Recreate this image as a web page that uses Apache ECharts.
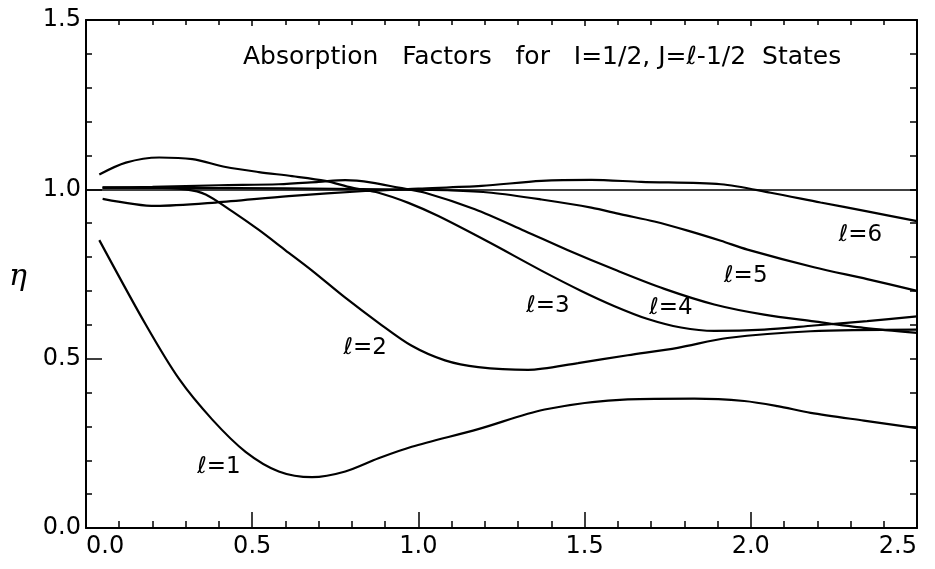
<!DOCTYPE html>
<html>
<head>
<meta charset="utf-8">
<script src="https://cdn.jsdelivr.net/npm/echarts@6/dist/echarts.min.js"></script>
<style>html,body{margin:0;padding:0;background:#fff;}#c{width:935px;height:569px;}</style>
</head>
<body>
<div id="c"></div>
<script>
// ---- data ----
const titleText = "Absorption   Factors   for   I=1/2, J=\u2113-1/2  States";
const yAxisName = "\u03b7";
const xTicks = [0.0, 0.5, 1.0, 1.5, 2.0, 2.5];
const yTicks = [0.0, 0.5, 1.0, 1.5];
const refEta = 1.0;

const l1X = [0.04, 0.18, 0.28, 0.38, 0.48, 0.58, 0.68, 0.78, 0.88, 0.98, 1.18, 1.38, 1.63, 1.83, 1.98, 2.08, 2.18, 2.34, 2.5];
const l1Y = [0.85, 0.60, 0.44, 0.32, 0.225, 0.167, 0.15, 0.167, 0.206, 0.24, 0.292, 0.35, 0.38, 0.382, 0.375, 0.36, 0.34, 0.317, 0.295];

const l2X = [0.05, 0.2, 0.3, 0.36, 0.44, 0.52, 0.60, 0.68, 0.78, 0.88, 0.98, 1.08, 1.18, 1.33, 1.48, 1.63, 1.78, 1.93, 2.18, 2.5];
const l2Y = [1.005, 1.005, 1.0, 0.985, 0.935, 0.88, 0.82, 0.76, 0.68, 0.606, 0.538, 0.495, 0.475, 0.467, 0.487, 0.51, 0.532, 0.561, 0.581, 0.586];

const l3X = [0.04, 0.12, 0.22, 0.32, 0.42, 0.52, 0.62, 0.72, 0.80, 0.88, 0.97, 1.06, 1.21, 1.37, 1.49, 1.59, 1.69, 1.79, 1.89, 2.04, 2.19, 2.35, 2.5];
const l3Y = [1.044, 1.079, 1.094, 1.089, 1.066, 1.051, 1.039, 1.025, 1.005, 0.99, 0.96, 0.921, 0.845, 0.76, 0.70, 0.655, 0.617, 0.592, 0.582, 0.586, 0.598, 0.611, 0.625];

const l4X = [0.05, 0.2, 0.4, 0.58, 0.7, 0.78, 0.86, 0.94, 1.02, 1.17, 1.32, 1.45, 1.59, 1.74, 1.89, 2.04, 2.19, 2.34, 2.5];
const l4Y = [1.005, 1.007, 1.012, 1.015, 1.022, 1.027, 1.02, 1.005, 0.99, 0.941, 0.877, 0.82, 0.763, 0.706, 0.660, 0.630, 0.610, 0.591, 0.576];

const l5X = [0.05, 0.3, 0.6, 0.9, 1.1, 1.22, 1.37, 1.52, 1.61, 1.71, 1.81, 1.91, 1.99, 2.19, 2.35, 2.5];
const l5Y = [1.005, 1.004, 1.003, 1.0, 0.997, 0.99, 0.97, 0.946, 0.926, 0.905, 0.878, 0.848, 0.822, 0.77, 0.735, 0.70];

const l6X = [0.05, 0.21, 0.39, 0.61, 0.84, 1.0, 1.19, 1.37, 1.52, 1.67, 1.91, 2.06, 2.21, 2.35, 2.5];
const l6Y = [0.972, 0.951, 0.961, 0.98, 0.995, 1.002, 1.01, 1.025, 1.028, 1.022, 1.015, 0.99, 0.961, 0.935, 0.906];

const curveNames = ["\u2113=1", "\u2113=2", "\u2113=3", "\u2113=4", "\u2113=5", "\u2113=6"];
const labelX = [0.40, 0.84, 1.39, 1.76, 1.985, 2.33];
const labelY = [0.18, 0.53, 0.655, 0.65, 0.745, 0.865];

// ---- build ----
const zip = (xs, ys) => xs.map((x, i) => [x, ys[i]]);
const curves = [[l1X, l1Y], [l2X, l2Y], [l3X, l3Y], [l4X, l4Y], [l5X, l5Y], [l6X, l6Y]];
const BLACK = '#000';
const FONT = "'DejaVu Sans', 'Liberation Sans', sans-serif";

const series = curves.map((c, i) => ({
  type: 'line',
  name: curveNames[i],
  data: zip(c[0], c[1]),
  smooth: 0.3,
  showSymbol: false,
  symbol: 'none',
  lineStyle: { color: BLACK, width: 2.2 },
  z: 3,
  markLine: i === 0 ? {
    silent: true,
    symbol: 'none',
    label: { show: false },
    lineStyle: { color: BLACK, width: 1.5, type: 'solid' },
    data: [{ yAxis: refEta }]
  } : undefined
}));

series.push({
  type: 'scatter',
  data: labelX.map((x, i) => ({ value: [x, labelY[i]], name: curveNames[i] })),
  symbolSize: 2,
  itemStyle: { color: 'rgba(0,0,0,0)' },
  label: {
    show: true,
    position: [1, 1],
    align: 'center',
    verticalAlign: 'middle',
    formatter: p => p.name,
    color: BLACK,
    opacity: 1,
    textBorderWidth: 0,
    fontSize: 23,
    fontFamily: FONT
  },
  labelLayout: { hideOverlap: false },
  z: 5
});

const fmt = v => v.toFixed(1);
const baseX = {
  type: 'value', min: xTicks[0], max: xTicks[xTicks.length - 1], interval: 0.5,
  splitLine: { show: false },
  axisLine: { show: true, onZero: false, lineStyle: { color: BLACK, width: 2 } }
};
const baseY = {
  type: 'value', min: yTicks[0], max: yTicks[yTicks.length - 1], interval: 0.5,
  splitLine: { show: false },
  axisLine: { show: true, onZero: false, lineStyle: { color: BLACK, width: 2 } }
};

const option = {
  animation: false,
  backgroundColor: '#fff',
  grid: { left: 86, right: 18, top: 20, bottom: 41 },
  title: {
    text: titleText,
    left: 238, top: 40,
    textStyle: { fontSize: 25, fontWeight: 'normal', color: BLACK, fontFamily: FONT }
  },
  xAxis: [
    Object.assign({}, baseX, {
      position: 'bottom',
      axisTick: { inside: true, length: 16, lineStyle: { color: BLACK, width: 1.5 } },
      minorTick: { show: true, splitNumber: 5, length: 7, lineStyle: { color: BLACK, width: 1.5 } },
      axisLabel: { formatter: fmt, color: BLACK, fontSize: 24, fontFamily: FONT, margin: 7,
                   alignMinLabel: 'left', alignMaxLabel: 'right' }
    }),
    Object.assign({}, baseX, {
      position: 'top',
      axisTick: { inside: true, length: 6, lineStyle: { color: BLACK, width: 1.5 } },
      minorTick: { show: true, splitNumber: 5, length: 5, lineStyle: { color: BLACK, width: 1.5 } },
      axisLabel: { show: false }
    })
  ],
  yAxis: [
    Object.assign({}, baseY, {
      position: 'left',
      axisTick: { inside: true, length: 16, lineStyle: { color: BLACK, width: 1.5 } },
      minorTick: { show: true, splitNumber: 5, length: 6, lineStyle: { color: BLACK, width: 1.5 } },
      axisLabel: { formatter: fmt, color: BLACK, fontSize: 24, fontFamily: FONT, margin: 5 }
    }),
    Object.assign({}, baseY, {
      position: 'right',
      axisTick: { inside: true, length: 7, lineStyle: { color: BLACK, width: 1.5 } },
      minorTick: { show: true, splitNumber: 5, length: 7, lineStyle: { color: BLACK, width: 1.5 } },
      axisLabel: { show: false }
    })
  ],
  graphic: [{
    type: 'text', left: 9, top: 262,
    style: { text: yAxisName, fill: BLACK, font: "italic 30px 'DejaVu Serif', serif" }
  }],
  series: series
};

const chart = echarts.init(document.getElementById('c'), null, { renderer: 'canvas' });
chart.setOption(option);
</script>
</body>
</html>
